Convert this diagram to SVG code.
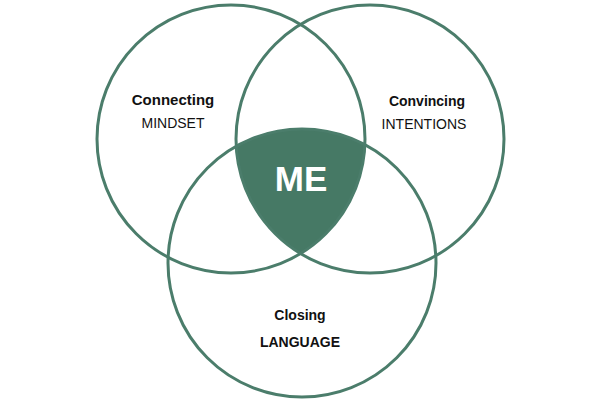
<svg xmlns="http://www.w3.org/2000/svg" width="600" height="400" viewBox="0 0 600 400">
<style>
.c{fill:none;stroke:#4b7d6b;stroke-width:3}
.t{font-family:"Liberation Sans",Arial,sans-serif;font-size:14px;fill:#111;text-anchor:middle}
.b{font-weight:bold}
</style>
<rect width="600" height="400" fill="#fff"/>
<g id="me-region">
<path d="M236.2 146.3 A134 134 0 0 1 364.9 144.7 A134 134 0 0 1 300.5 253.6 A134 134 0 0 1 236.2 146.3 Z" fill="#467965"/>
<text x="301" y="191" font-family="Liberation Sans,Arial,sans-serif" font-size="35" font-weight="bold" fill="#fff" text-anchor="middle">ME</text>
</g>
<g id="circle-connecting">
<circle class="c" cx="231" cy="139" r="134"/>
<text class="t b" x="173" y="105" font-size="15" style="font-size:15px">Connecting</text>
<text class="t" x="173" y="128">MINDSET</text>
</g>
<g id="circle-convincing">
<circle class="c" cx="370" cy="139" r="134"/>
<text class="t b" x="427" y="106">Convincing</text>
<text class="t" x="424" y="129">INTENTIONS</text>
</g>
<g id="circle-closing">
<circle class="c" cx="302" cy="263" r="134"/>
<text class="t b" x="300" y="320">Closing</text>
<text class="t b" x="300" y="347">LANGUAGE</text>
</g>
</svg>
